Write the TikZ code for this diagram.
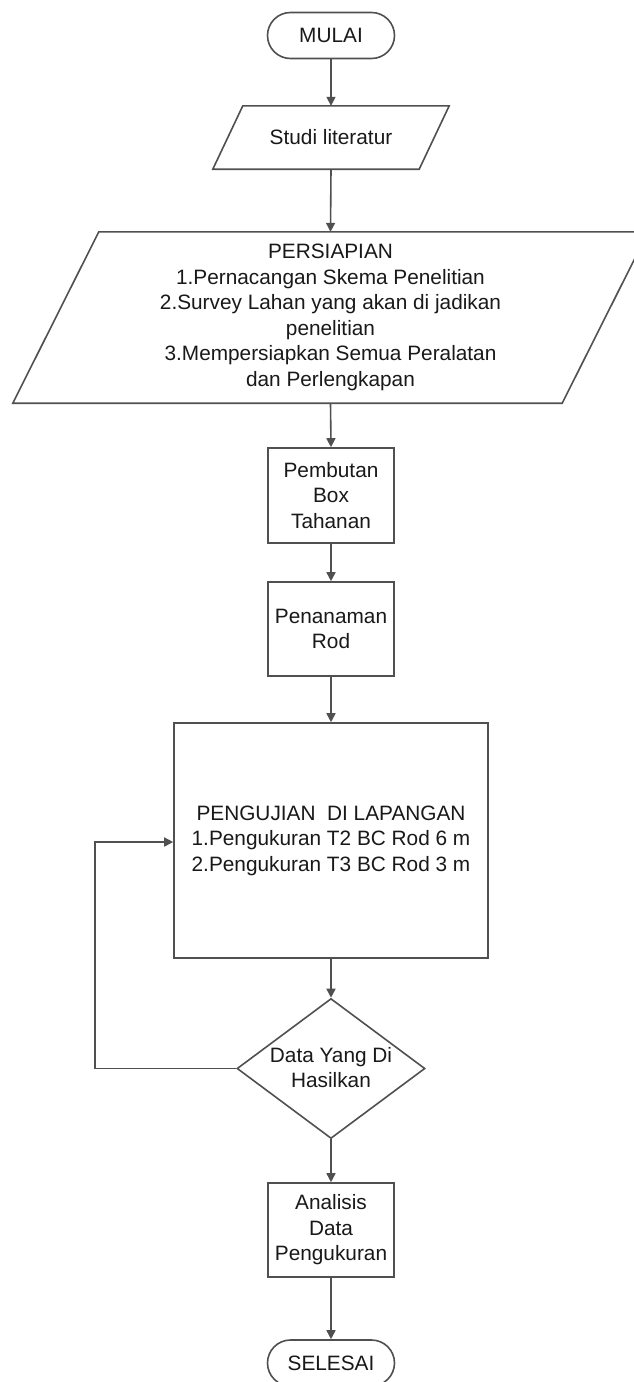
\documentclass[tikz,border=0pt]{standalone}
\usepackage{fontspec}
\setmainfont{Liberation Sans}
\usetikzlibrary{arrows.meta,shapes.geometric,calc}
\definecolor{linegray}{RGB}{80,80,80}
\definecolor{txt}{RGB}{25,25,25}
\begin{document}
\begin{tikzpicture}[x=1pt,y=-1pt,
  every node/.style={text=txt,font=\fontsize{20.8}{25.5}\selectfont,align=center,inner sep=0pt},
  shapeline/.style={draw=linegray,line width=1.6pt,line join=miter},
  term/.style={shapeline,rectangle,rounded corners=23pt,minimum width=127pt,minimum height=46pt},
  procbox/.style={shapeline,rectangle},
  paraholder/.style={rectangle,draw=none},
  decision/.style={shapeline,diamond,minimum width=188pt,minimum height=140pt,aspect=1.343},
  conn/.style={draw=linegray,line width=1.6pt,-{Triangle[length=9pt,width=9pt]}},
  plainline/.style={draw=linegray,line width=1.6pt}
]
\useasboundingbox (0,0) rectangle (634,1382);
\fill[white] (0,0) rectangle (634,1382);

% nodes
\node[term] (mulai) at (331,35.5) {MULAI};
\node[paraholder,minimum width=206pt,minimum height=63pt] (studi) at (331,137.5) {Studi literatur};
\draw[shapeline] ([xshift=15pt]studi.north west) -- ([xshift=15pt]studi.north east)
  -- ([xshift=-15pt]studi.south east) -- ([xshift=-15pt]studi.south west) -- cycle;
\node[paraholder,minimum width=549pt,minimum height=171pt] (persiapan) at (330.5,317.5)
  {PERSIAPIAN\\1.Pernacangan Skema Penelitian\\2.Survey Lahan yang akan di jadikan\\penelitian\\3.Mempersiapkan Semua Peralatan\\dan Perlengkapan};
\draw[shapeline] ([xshift=43pt]persiapan.north west) -- ([xshift=43pt]persiapan.north east)
  -- ([xshift=-43pt]persiapan.south east) -- ([xshift=-43pt]persiapan.south west) -- cycle;
\node[procbox,minimum width=126pt,minimum height=95pt] (box) at (331,495.5) {Pembutan\\Box\\Tahanan};
\node[procbox,minimum width=126pt,minimum height=94pt] (rod) at (331,629) {Penanaman\\Rod};
\node[procbox,minimum width=314pt,minimum height=235pt] (uji) at (331,840.5)
  {PENGUJIAN\ \ DI LAPANGAN\\1.Pengukuran T2 BC Rod 6 m\\2.Pengukuran T3 BC Rod 3 m};
\node[decision] (data) at (331,1068.5) {};
\node at (331,1067.5) {Data Yang Di\\Hasilkan};
\node[procbox,minimum width=126pt,minimum height=94pt] (analisis) at (331,1230) {Analisis\\Data\\Pengukuran};
\node[term] (selesai) at (331,1363) {SELESAI};

% connectors
\draw[conn] (mulai.south) -- (studi.north);
\draw[conn] (studi.south) -- (persiapan.north);
\draw[conn] (persiapan.south) -- (box.north);
\draw[conn] (box.south) -- (rod.north);
\draw[conn] (rod.south) -- (uji.north);
\draw[conn] (uji.south) -- (data.north);
\draw[conn] (data.south) -- (analisis.north);
\draw[conn] (analisis.south) -- (selesai.north);
\coordinate (fbA) at (95,1068.5);
\coordinate (fbB) at (95,842);
\draw[conn] (data.west) -- (fbA) -- (fbB) -- (uji.west |- fbB);
\end{tikzpicture}
\end{document}
